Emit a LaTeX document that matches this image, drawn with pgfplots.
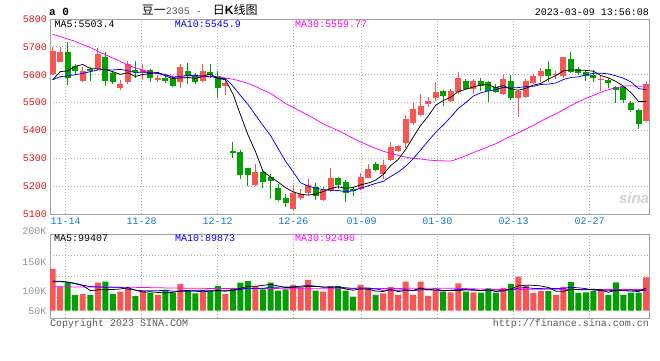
\documentclass[border=0pt]{standalone}
\usepackage{pgfplots}
\pgfplotsset{compat=1.18}
\usepackage{pgfplotstable}
\usepackage{fontspec}
\setmainfont{Liberation Sans}
\setmonofont{Liberation Mono}
\newfontfamily\cjk{Noto Sans CJK SC}
\newfontfamily\lsans{Liberation Sans}

\definecolor{upred}{RGB}{250,85,85}
\definecolor{dngreen}{RGB}{0,160,0}
\definecolor{pricered}{RGB}{225,20,20}
\definecolor{dateblue}{RGB}{20,120,210}
\definecolor{bordergray}{RGB}{160,160,160}
\definecolor{gridgray}{RGB}{175,175,175}
\definecolor{volgray}{RGB}{150,150,150}
\definecolor{magenta2}{RGB}{255,0,255}
\definecolor{titlegray}{RGB}{90,90,90}

% candles: index, open, high, low, close
\pgfplotstableread{
i o h l c
0 5602 5700 5600 5686
1 5646 5698 5644 5682
4 5576 5628 5574 5614
6 5620 5695 5618 5676
9 5552 5581 5545 5567
10 5573 5650 5567 5640
12 5605 5638 5581 5617
14 5581 5600 5575 5590
17 5573 5640 5552 5629
20 5579 5640 5575 5614
23 5560 5590 5529 5569
27 5204 5281 5202 5251
32 5118 5204 5116 5177
33 5157 5190 5150 5171
34 5174 5226 5170 5204
36 5150 5198 5148 5186
37 5183 5265 5180 5230
41 5189 5248 5185 5233
42 5230 5281 5228 5261
44 5245 5293 5227 5277
45 5293 5358 5290 5340
46 5326 5349 5322 5343
47 5355 5454 5338 5442
48 5426 5501 5420 5477
49 5457 5531 5452 5489
50 5495 5521 5485 5507
51 5515 5575 5505 5539
53 5505 5549 5503 5540
54 5537 5608 5530 5588
56 5549 5585 5529 5579
60 5531 5600 5528 5585
62 5517 5545 5448 5540
63 5519 5585 5515 5576
64 5569 5602 5565 5596
65 5596 5626 5573 5614
67 5600 5614 5584 5603
68 5596 5665 5590 5662
73 5582 5600 5540 5584
79 5433 5576 5430 5566
}\upc

\pgfplotstableread{
i o h l c
2 5682 5717 5564 5588
3 5631 5638 5598 5614
5 5620 5628 5576 5612
7 5662 5680 5561 5579
8 5608 5612 5565 5573
11 5617 5650 5590 5608
13 5617 5622 5575 5587
15 5588 5596 5570 5576
16 5588 5594 5555 5561
18 5614 5642 5565 5594
19 5596 5605 5565 5575
21 5611 5640 5590 5599
22 5596 5614 5517 5552
24 5326 5359 5300 5321
25 5323 5329 5226 5240
26 5265 5266 5200 5240
28 5251 5260 5192 5215
29 5233 5245 5155 5219
30 5194 5207 5148 5150
31 5158 5171 5126 5138
35 5198 5212 5150 5165
38 5230 5232 5190 5204
39 5215 5221 5144 5176
40 5190 5198 5163 5181
43 5281 5287 5253 5257
52 5540 5545 5489 5523
55 5579 5585 5545 5549
57 5579 5588 5543 5561
58 5573 5579 5501 5543
59 5557 5565 5533 5537
61 5576 5600 5511 5517
66 5620 5648 5573 5596
69 5656 5683 5605 5611
70 5620 5626 5600 5608
71 5611 5617 5579 5594
72 5600 5617 5573 5588
74 5582 5588 5552 5569
75 5557 5561 5497 5545
76 5555 5557 5500 5508
77 5499 5507 5468 5474
78 5474 5478 5404 5424
}\dnc

% price moving averages
\pgfplotstableread{
i m5 m10 m30
0 5582 5582 5745
1 5611 5593 5737
2 5614 5596 5728
3 5630 5600 5720
4 5636.8 5605 5708
5 5622 5611 5698
6 5620.8 5617 5684
7 5619 5618 5672
8 5610.8 5617 5660
9 5601.4 5619.1 5648
10 5607 5614.5 5634
11 5593.4 5607.1 5625
12 5601 5610 5616
13 5603.8 5607.3 5609
14 5608.4 5604.9 5604
15 5595.6 5601.3 5598
16 5586.2 5589.8 5595
17 5588.6 5594.8 5592
18 5590 5596.9 5591
19 5587 5597.7 5592
20 5594.6 5595.1 5593
21 5602.2 5594.2 5594
22 5586.8 5587.7 5592
23 5581.8 5585.9 5588
24 5531 5559 5584
25 5456.2 5525.4 5577
26 5384.4 5493.3 5569
27 5324.2 5455.5 5558
28 5253.4 5417.6 5545
29 5233 5382 5532.9
30 5215 5335.6 5515.1
31 5194.6 5289.5 5496.9
32 5179.8 5252 5483.2
33 5171 5212.2 5468.5
34 5168 5200.5 5454.8
35 5171 5193 5439.9
36 5180.6 5187.6 5423.6
37 5191.2 5185.5 5411.9
38 5197.8 5184.4 5399.6
39 5192.2 5180.1 5386.6
40 5195.4 5183.2 5371.3
41 5204.8 5192.7 5358.8
42 5211 5201.1 5346.9
43 5221.6 5209.7 5335.9
44 5241.8 5217 5325.5
45 5273.6 5234.5 5317.6
46 5295.6 5250.2 5310.4
47 5331.8 5271.4 5304.1
48 5375.8 5298.7 5300.2
49 5418.2 5330 5297.4
50 5451.6 5362.6 5293.8
51 5490.8 5393.2 5291.8
52 5507 5419.4 5290.8
53 5519.6 5447.7 5289.9
54 5539.4 5478.8 5298.8
55 5547.8 5499.7 5309.1
56 5555.8 5523.3 5320.4
57 5563.4 5535.2 5330.7
58 5564 5541.8 5341.6
59 5553.8 5546.6 5352.2
60 5561 5554.4 5366.7
61 5548.6 5552.2 5379.4
62 5544.4 5553.9 5391.5
63 5551 5557.5 5405
64 5562.8 5558.3 5418
65 5568.6 5564.8 5433
66 5584.4 5566.5 5446.7
67 5597 5570.7 5459.1
68 5614.2 5582.6 5474.4
69 5617.2 5590 5488.9
70 5616 5592.3 5503.1
71 5615.6 5600 5515.1
72 5612.6 5604.8 5526
73 5597 5605.6 5536.9
74 5588.6 5602.9 5546.7
75 5576 5596 5553.5
76 5558.8 5587.2 5559
77 5536 5574.3 5560.1
78 5504 5550.5 5558.3
79 5503.4 5546 5559.8
}\pma

% volume (thousands)
\pgfplotstableread{
i v
0 183
1 105
4 73
6 123
9 84
10 101
12 86
14 69
17 117
20 84
23 73
27 108
32 113
33 102
34 135
36 84
37 108
41 113
42 101
44 76
45 105
46 69
47 127
48 69
49 127
50 65
51 91
53 80
54 120
56 80
60 100
62 150
63 110
64 78
65 86
67 69
68 105
73 90
79 146
}\vup

\pgfplotstableread{
i v
2 123
3 69
5 69
7 127
8 73
11 65
13 79
15 91
16 79
18 88
19 76
21 86
22 108
24 100
25 123
26 130
28 94
29 123
30 88
31 94
35 88
38 108
39 88
40 62
43 69
52 84
55 84
57 79
58 98
59 79
61 118
66 86
69 125
70 78
71 80
72 86
74 69
75 124
76 69
77 79
78 79
}\vdn

\pgfplotstableread{
i m5 m10
0 127 130
1 127 129
2 125 126
3 118 120
4 110.6 112
5 87.8 106
6 91.4 104
7 92.2 103
8 93 103
9 95.2 102.9
10 101.6 94.7
11 90 90.7
12 81.8 87
13 83 88
14 80 87.6
15 78 89.8
16 80.8 85.4
17 87 84.4
18 88.8 85.9
19 90.2 85.1
20 88.8 83.4
21 90.2 85.5
22 88.4 87.7
23 85.4 87.1
24 90.2 90.2
25 98 93.4
26 106.8 98.5
27 106.8 97.6
28 111 98.2
29 115.6 102.9
30 108.6 103.3
31 101.4 104.1
32 102.4 104.6
33 104 107.5
34 106.4 111
35 106.4 107.5
36 104.4 102.9
37 103.4 102.9
38 104.6 104.3
39 95.2 100.8
40 90 98.2
41 95.8 100.1
42 94.4 98.9
43 86.6 95.6
44 84.2 89.7
45 92.8 91.4
46 84 89.9
47 89.2 91.8
48 89.2 87.9
49 99.4 91.8
50 91.4 92.1
51 95.8 89.9
52 87.2 88.2
53 89.4 89.3
54 88 93.7
55 91.8 91.6
56 89.6 92.7
57 88.6 87.9
58 92.2 90.8
59 84 86
60 87.2 89.5
61 94.8 92.2
62 109 98.8
63 111.4 101.8
64 111.2 97.6
65 108.4 97.8
66 102 98.4
67 85.8 97.4
68 84.8 98.1
69 94.2 102.7
70 92.6 100.5
71 91.4 96.7
72 94.8 90.3
73 91.8 88.3
74 80.6 87.4
75 89.8 91.2
76 87.6 89.5
77 86.2 90.5
78 84 87.9
79 99.4 90
}\vma

\pgfplotstableread{
i m30
0 105
5 104
10 103
15 100
20 98
25 97
29 97
34 96.3
39 96.3
44 97
49 98.5
54 98.1
59 92.9
64 93.7
69 93.5
74 92.9
79 92.5
}\vmb

\pgfplotsset{
  panel/.style={
    scale only axis, width=599pt,
    xmin=-0.36, xmax=79.4,
    axis line style={draw=bordergray, line width=1pt},
    major tick length=0pt,
    grid=major,
    grid style={draw=gridgray, line width=0.8pt, dash pattern=on 1pt off 2pt},
    xtick={1.73,11.85,21.97,32.04,41.14,51.21,61.38,71.50},
    ticklabel style={font=\ttfamily\fontsize{10}{12}\selectfont},
  },
  wick/.style={forget plot, draw=none, mark=none,
    error bars/.cd, y dir=both, y explicit, error mark=none,
    error bar style={draw=#1, line width=1pt}},
  body/.style={forget plot, draw=none, mark=none,
    error bars/.cd, y dir=both, y explicit, error mark=none,
    error bar style={draw=#1, line width=6pt}},
}

\begin{document}
\begin{tikzpicture}
\useasboundingbox (0pt,0pt) rectangle (660pt,360pt);
\fill[white] (0pt,0pt) rectangle (660pt,360pt);

% ---------------- price panel ----------------
\begin{axis}[panel,
  at={(50pt,146pt)}, anchor=south west, height=195pt,
  ymin=5100, ymax=5800,
  ytick={5100,5200,5300,5400,5500,5600,5700,5800},
  yticklabels={5100,5200,5300,5400,5500,5600,5700,5800},
  xticklabels={11-14,11-28,12-12,12-26,01-09,01-30,02-13,02-27},
  yticklabel style={text=pricered, inner sep=0pt, xshift=-3pt},
  xticklabel style={text=dateblue, inner sep=0pt, yshift=-3.5pt},
]
\addplot[wick=upred] table[x=i, y expr={(\thisrow{h}+\thisrow{l})/2}, y error expr={(\thisrow{h}-\thisrow{l})/2}] {\upc};
\addplot[wick=dngreen] table[x=i, y expr={(\thisrow{h}+\thisrow{l})/2}, y error expr={(\thisrow{h}-\thisrow{l})/2}] {\dnc};
\addplot[body=upred] table[x=i, y expr={(\thisrow{o}+\thisrow{c})/2}, y error expr={max(abs(\thisrow{c}-\thisrow{o})/2,2.2)}] {\upc};
\addplot[body=dngreen] table[x=i, y expr={(\thisrow{o}+\thisrow{c})/2}, y error expr={max(abs(\thisrow{c}-\thisrow{o})/2,2.2)}] {\dnc};
\addplot[magenta2, line width=0.75pt, mark=none] table[x=i, y=m30] {\pma};
\addplot[blue, line width=0.75pt, mark=none] table[x=i, y=m10] {\pma};
\addplot[black, line width=0.75pt, mark=none] table[x=i, y=m5] {\pma};
\end{axis}

% ---------------- volume panel ----------------
\begin{axis}[panel,
  at={(50pt,41.7pt)}, anchor=south west, height=84pt,
  ymin=-33.3, ymax=335,
  ytick={58.8,150.9,243},
  yticklabels={}, xticklabels={},
]
\addplot[ybar, bar width=6pt, bar shift=0pt, fill=upred, draw=none] table[x=i, y=v] {\vup};
\addplot[ybar, bar width=6pt, bar shift=0pt, fill=dngreen, draw=none] table[x=i, y=v] {\vdn};
\addplot[magenta2, line width=0.75pt, mark=none] table[x=i, y=m30] {\vmb};
\addplot[blue, line width=0.75pt, mark=none] table[x=i, y=m10] {\vma};
\addplot[black, line width=0.75pt, mark=none] table[x=i, y=m5] {\vma};
\end{axis}

% ---------------- texts ----------------
\tikzset{mono/.style={inner sep=0pt, font=\ttfamily\fontsize{10}{12}\selectfont}}
\node[anchor=west, inner sep=0pt, font=\ttfamily\bfseries\fontsize{11}{12}\selectfont] at (49pt,348pt) {a 0};
\node[anchor=west, inner sep=0pt] at (141.7pt,350pt) {{\cjk\fontsize{12}{13}\selectfont 豆一}{\ttfamily\fontsize{10}{12}\selectfont\color{titlegray}2305 -}\hspace{11pt}{\cjk\fontsize{12}{13}\selectfont 日}{\lsans\bfseries\fontsize{12}{13}\selectfont K}{\cjk\fontsize{12}{13}\selectfont 线图}};
\node[mono, anchor=east] at (649pt,348pt) {2023-03-09 13:56:08};

\node[mono, anchor=west, text=black] at (54.3pt,336pt) {MA5:5503.4};
\node[mono, anchor=west, text=blue] at (174.7pt,336pt) {MA10:5545.9};
\node[mono, anchor=west, text=magenta2] at (295pt,336pt) {MA30:5559.77};

\node[mono, anchor=west, text=black] at (54pt,121.7pt) {MA5:99407};
\node[mono, anchor=west, text=blue] at (175pt,121.7pt) {MA10:89873};
\node[mono, anchor=west, text=magenta2] at (295pt,121.7pt) {MA30:92490};

\node[mono, anchor=east, text=volgray] at (46.5pt,129pt) {200K};
\node[mono, anchor=east, text=volgray] at (46.5pt,98.3pt) {150K};
\node[mono, anchor=east, text=volgray] at (46.5pt,69.3pt) {100K};
\node[mono, anchor=east, text=volgray] at (46.5pt,49.3pt) {50K};

\node[mono, anchor=west, text=titlegray] at (50pt,36pt) {Copyright 2023 SINA.COM};
\node[mono, anchor=east, text=titlegray] at (649pt,36pt) {http://finance.sina.com.cn};

\node[text=gray!35, font=\lsans\bfseries\itshape\fontsize{15}{15}\selectfont, inner sep=0pt] at (634pt,162pt) {sina};
\end{tikzpicture}
\end{document}
